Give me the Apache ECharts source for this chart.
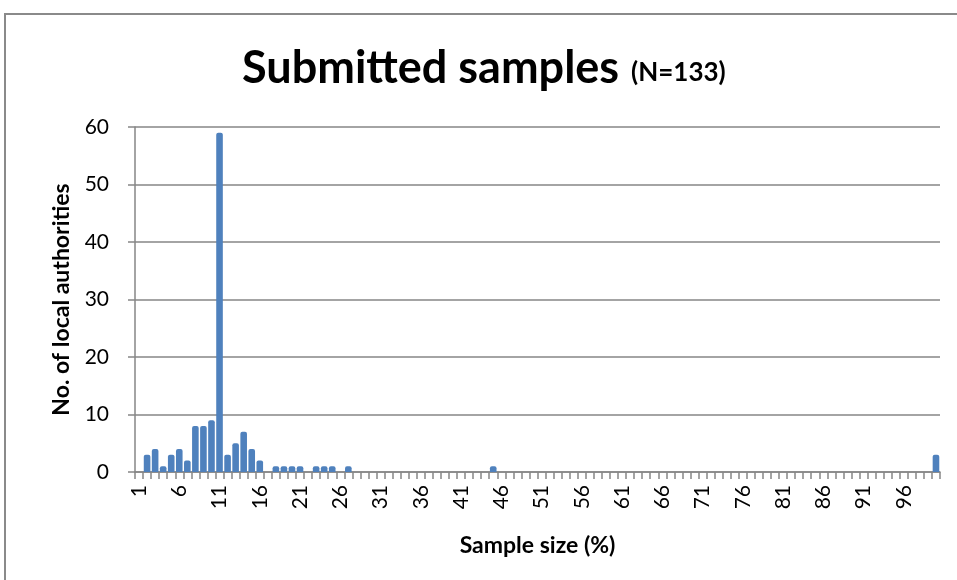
<!DOCTYPE html>
<html>
<head>
<meta charset="utf-8">
<script src="https://cdn.jsdelivr.net/npm/echarts@6/dist/echarts.min.js"></script>
<style>
html,body{margin:0;padding:0;background:#fff;}
#frame{position:absolute;left:4px;top:13px;width:1200px;height:900px;border-left:2px solid #8a8a8a;border-top:2px solid #8a8a8a;}
#chart{position:absolute;left:0;top:0;width:957px;height:580px;}
</style>
</head>
<body>
<div id="frame"></div>
<div id="chart"></div>
<script>
// Categories: sample size 1..100 (%)
var categories = [];
for (var c = 1; c <= 100; c++) categories.push(String(c));

// Number of local authorities per sample size (1..100)
var counts = [
  0, 3, 4, 1, 3, 4, 2, 8, 8, 9,      // 1-10
  59, 3, 5, 7, 4, 2, 0, 1, 1, 1,     // 11-20
  1, 0, 1, 1, 1, 0, 1, 0, 0, 0,      // 21-30
  0, 0, 0, 0, 0, 0, 0, 0, 0, 0,      // 31-40
  0, 0, 0, 0, 1, 0, 0, 0, 0, 0,      // 41-50
  0, 0, 0, 0, 0, 0, 0, 0, 0, 0,      // 51-60
  0, 0, 0, 0, 0, 0, 0, 0, 0, 0,      // 61-70
  0, 0, 0, 0, 0, 0, 0, 0, 0, 0,      // 71-80
  0, 0, 0, 0, 0, 0, 0, 0, 0, 0,      // 81-90
  0, 0, 0, 0, 0, 0, 0, 0, 0, 3       // 91-100
];

var yTicks = [0, 10, 20, 30, 40, 50, 60];

var chart = echarts.init(document.getElementById('chart'));
var font = 'Lato, "Open Sans", sans-serif';
chart.setOption({
  animation: false,
  title: {
    text: '{a|Submitted samples}{s| }{b|(N=133)}',
    left: 237,
    top: 41,
    textStyle: {
      rich: {
        a: {fontFamily: font, fontWeight: 'bold', fontSize: 45, color: '#000'},
        s: {fontSize: 45, width: 12},
        b: {fontFamily: font, fontWeight: 'bold', fontSize: 26, color: '#000', verticalAlign: 'bottom', padding: [0,0,5,0]}
      }
    }
  },
  grid: {left: 135, right: 17, top: 127, bottom: 108, containLabel: false},
  xAxis: {
    type: 'category',
    data: categories,
    name: 'Sample size (%)',
    nameLocation: 'middle',
    nameGap: 62,
    nameTextStyle: {fontFamily: font, fontWeight: 'bold', fontSize: 23, color: '#000'},
    axisLine: {lineStyle: {color: '#868686', width: 1.5}},
    axisTick: {show: true, interval: 0, length: 7, lineStyle: {color: '#868686', width: 1.5}},
    axisLabel: {
      interval: function (i) { return i % 5 === 0; },
      rotate: 90,
      fontFamily: font,
      fontSize: 21,
      color: '#000',
      margin: 13
    }
  },
  yAxis: {
    type: 'value',
    min: 0,
    max: 60,
    interval: 10,
    name: 'No. of local authorities',
    nameLocation: 'middle',
    nameGap: 62,
    nameTextStyle: {fontFamily: font, fontWeight: 'bold', fontSize: 23, color: '#000'},
    axisLine: {show: true, lineStyle: {color: '#868686', width: 1.5}},
    axisTick: {show: true, length: 7, lineStyle: {color: '#868686', width: 1.5}},
    splitLine: {lineStyle: {color: '#868686', width: 1.5}},
    axisLabel: {
      fontFamily: font, fontSize: 21, color: '#000', margin: 26,
      formatter: function (v) { return yTicks.indexOf(v) >= 0 ? String(v) : ''; }
    }
  },
  series: [{
    type: 'bar',
    data: counts,
    barCategoryGap: '18%',
    itemStyle: {color: '#4f81bd', borderRadius: [2, 2, 0, 0]}
  }]
});
</script>
</body>
</html>
